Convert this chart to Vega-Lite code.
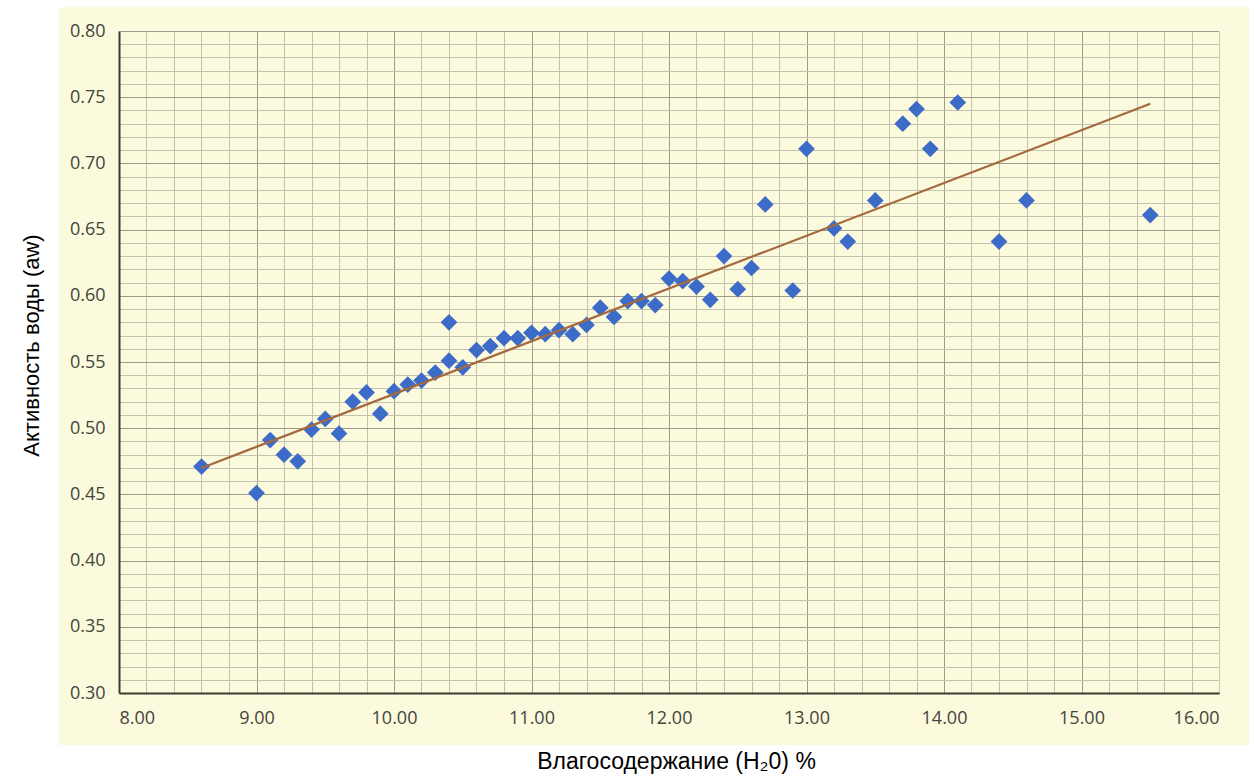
{
  "$schema": "https://vega.github.io/schema/vega-lite/v6.json",
  "width": 1100,
  "height": 662,
  "autosize": {"type": "none"},
  "padding": {"left": 119, "top": 31, "right": 35, "bottom": 85},
  "background": "#ffffff",
  "config": {"view": {"fill": "#FCFADC", "stroke": null}, "font": "Open Sans"},
  "datasets": {
    "points": [
      {"x": 8.6, "y": 0.471}, {"x": 9.0, "y": 0.451}, {"x": 9.1, "y": 0.491}, {"x": 9.2, "y": 0.480},
      {"x": 9.3, "y": 0.475}, {"x": 9.4, "y": 0.499}, {"x": 9.5, "y": 0.507}, {"x": 9.6, "y": 0.496},
      {"x": 9.7, "y": 0.520}, {"x": 9.8, "y": 0.527}, {"x": 9.9, "y": 0.511}, {"x": 10.0, "y": 0.528},
      {"x": 10.1, "y": 0.533}, {"x": 10.2, "y": 0.536}, {"x": 10.3, "y": 0.542}, {"x": 10.4, "y": 0.580},
      {"x": 10.4, "y": 0.551}, {"x": 10.5, "y": 0.546}, {"x": 10.6, "y": 0.559}, {"x": 10.7, "y": 0.562},
      {"x": 10.8, "y": 0.568}, {"x": 10.9, "y": 0.568}, {"x": 11.0, "y": 0.572}, {"x": 11.1, "y": 0.571},
      {"x": 11.2, "y": 0.574}, {"x": 11.3, "y": 0.571}, {"x": 11.4, "y": 0.578}, {"x": 11.5, "y": 0.591},
      {"x": 11.6, "y": 0.584}, {"x": 11.7, "y": 0.596}, {"x": 11.8, "y": 0.596}, {"x": 11.9, "y": 0.593},
      {"x": 12.0, "y": 0.613}, {"x": 12.1, "y": 0.611}, {"x": 12.2, "y": 0.607}, {"x": 12.3, "y": 0.597},
      {"x": 12.4, "y": 0.630}, {"x": 12.5, "y": 0.605}, {"x": 12.6, "y": 0.621}, {"x": 12.7, "y": 0.669},
      {"x": 12.9, "y": 0.604}, {"x": 13.0, "y": 0.711}, {"x": 13.2, "y": 0.651}, {"x": 13.3, "y": 0.641},
      {"x": 13.5, "y": 0.672}, {"x": 13.7, "y": 0.730}, {"x": 13.8, "y": 0.741}, {"x": 13.9, "y": 0.711},
      {"x": 14.1, "y": 0.746}, {"x": 14.4, "y": 0.641}, {"x": 14.6, "y": 0.672}, {"x": 15.5, "y": 0.661}
    ],
    "trend": [{"x": 8.6, "y": 0.470}, {"x": 15.5, "y": 0.745}]
  },
  "layer": [
    {
      "data": {"values": [{}]},
      "mark": {"type": "rect", "color": "#FCFADC"},
      "encoding": {
        "x": {"datum": 7.564, "type": "quantitative", "axis": null},
        "x2": {"datum": 8},
        "y": {"datum": 0.818, "type": "quantitative", "axis": null},
        "y2": {"datum": 0.2607}
      }
    },
    {
      "data": {"values": [{}]},
      "mark": {"type": "rect", "color": "#FCFADC"},
      "encoding": {
        "x": {"datum": 16.004, "type": "quantitative", "axis": null},
        "x2": {"datum": 16.218},
        "y": {"datum": 0.818, "type": "quantitative", "axis": null},
        "y2": {"datum": 0.2607}
      }
    },
    {
      "data": {"values": [{}]},
      "mark": {"type": "rect", "color": "#FCFADC"},
      "encoding": {
        "x": {"datum": 8, "type": "quantitative", "axis": null},
        "x2": {"datum": 16.004},
        "y": {"datum": 0.818, "type": "quantitative", "axis": null},
        "y2": {"datum": 0.8004}
      }
    },
    {
      "data": {"values": [{}]},
      "mark": {"type": "rect", "color": "#FCFADC"},
      "encoding": {
        "x": {"datum": 8, "type": "quantitative", "axis": null},
        "x2": {"datum": 16.004},
        "y": {"datum": 0.2996, "type": "quantitative", "axis": null},
        "y2": {"datum": 0.2607}
      }
    },
    {
      "data": {"name": "points"},
      "mark": {"type": "point", "shape": "diamond", "filled": true, "size": 280, "color": "#3D6CC8", "opacity": 1},
      "encoding": {
        "x": {
          "field": "x", "type": "quantitative",
          "scale": {"domain": [8, 16], "nice": false, "zero": false},
          "axis": {
            "orient": "bottom", "zindex": 0, "grid": true, "labels": false, "ticks": false, "domain": false, "title": null,
            "values": [8, 8.2, 8.4, 8.6, 8.8, 9, 9.2, 9.4, 9.6, 9.8, 10, 10.2, 10.4, 10.6, 10.8, 11, 11.2, 11.4, 11.6, 11.8, 12, 12.2, 12.4, 12.6, 12.8, 13, 13.2, 13.4, 13.6, 13.8, 14, 14.2, 14.4, 14.6, 14.8, 15, 15.2, 15.4, 15.6, 15.8, 16],
            "gridWidth": 1,
            "gridColor": {"condition": {"test": "abs(datum.value - round(datum.value)) < 0.001", "value": "#9c9c8a"}, "value": "#c2c2b0"}
          }
        },
        "y": {
          "field": "y", "type": "quantitative",
          "scale": {"domain": [0.3, 0.8], "nice": false, "zero": false},
          "axis": {
            "orient": "left", "zindex": 0, "grid": true, "labels": false, "ticks": false, "domain": false, "title": null,
            "values": [0.3, 0.31, 0.32, 0.33, 0.34, 0.35, 0.36, 0.37, 0.38, 0.39, 0.4, 0.41, 0.42, 0.43, 0.44, 0.45, 0.46, 0.47, 0.48, 0.49, 0.5, 0.51, 0.52, 0.53, 0.54, 0.55, 0.56, 0.57, 0.58, 0.59, 0.6, 0.61, 0.62, 0.63, 0.64, 0.65, 0.66, 0.67, 0.68, 0.69, 0.7, 0.71, 0.72, 0.73, 0.74, 0.75, 0.76, 0.77, 0.78, 0.79, 0.8],
            "gridWidth": 1,
            "gridColor": {"condition": {"test": "abs(datum.value * 20 - round(datum.value * 20)) < 0.001", "value": "#9c9c8a"}, "value": "#c2c2b0"}
          }
        }
      }
    },
    {
      "data": {"name": "trend"},
      "mark": {"type": "line", "color": "#A4693F", "strokeWidth": 2.2},
      "encoding": {
        "x": {
          "field": "x", "type": "quantitative",
          "scale": {"domain": [8, 16], "nice": false, "zero": false},
          "axis": {
            "orient": "bottom", "zindex": 1, "grid": false, "ticks": false,
            "values": [8, 9, 10, 11, 12, 13, 14, 15, 16],
            "format": ".2f",
            "domain": true, "domainColor": "#3a3a32", "domainWidth": 2,
            "labelFont": "Open Sans", "labelFontSize": 18, "labelColor": "#444440", "labelPadding": 16,
            "title": "Влагосодержание (H₂0) %",
            "titleFont": "Liberation Sans", "titleFontSize": 23, "titleFontWeight": "normal", "titleColor": "#000000",
            "titleBaseline": "alphabetic", "titleY": 75, "titleX": 557
          }
        },
        "y": {
          "field": "y", "type": "quantitative",
          "scale": {"domain": [0.3, 0.8], "nice": false, "zero": false},
          "axis": {
            "orient": "left", "zindex": 1, "grid": false, "ticks": false,
            "values": [0.3, 0.35, 0.4, 0.45, 0.5, 0.55, 0.6, 0.65, 0.7, 0.75, 0.8],
            "format": ".2f",
            "domain": true, "domainColor": "#3a3a32", "domainWidth": 2,
            "labelFont": "Open Sans", "labelFontSize": 18, "labelColor": "#444440", "labelPadding": 14,
            "title": "Активность воды (aw)",
            "titleFont": "Liberation Sans", "titleFontSize": 22, "titleFontWeight": "normal", "titleColor": "#000000",
            "titleBaseline": "alphabetic", "titleX": -81, "titleY": 314
          }
        }
      }
    }
  ],
  "resolve": {"axis": {"x": "independent", "y": "independent"}}
}
